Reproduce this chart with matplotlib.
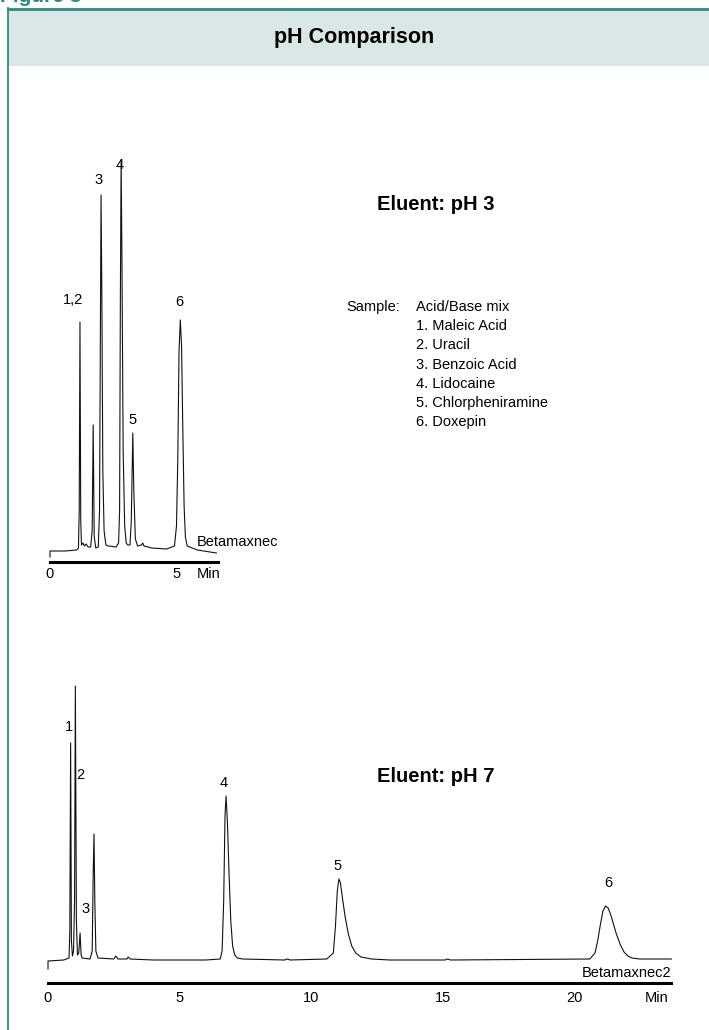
import matplotlib
matplotlib.use("Agg")
import matplotlib.pyplot as plt
from matplotlib.patches import Rectangle
from matplotlib.lines import Line2D

plt.rcParams["font.family"] = ["Liberation Sans", "DejaVu Sans"]

W, H = 709, 1030

# pH 3 trace: time (min) and signal (detector units)
ph3_time = [0, 0, 0.6, 1.05, 1.12, 1.15, 1.18, 1.21, 1.24, 1.3, 1.35, 1.42, 1.5, 1.6,
            1.66, 1.70, 1.74, 1.8, 1.9, 1.95, 1.98, 2.01, 2.04, 2.08, 2.13, 2.2, 2.3,
            2.6, 2.7, 2.74, 2.77, 2.80, 2.83, 2.88, 2.94, 3.0, 3.06,
            3.15, 3.2, 3.26, 3.3, 3.36, 3.45, 3.6, 3.65, 3.7, 4.0, 4.6,
            4.9, 4.98, 5.03, 5.08, 5.13, 5.18, 5.23, 5.28, 5.33, 5.4, 5.8, 6.55]
ph3_signal = [-6, 0, 0, 1, 3, 40, 229, 30, 6, 8, 5, 7, 4, 4,
              20, 126, 15, 3, 4, 40, 200, 356, 260, 80, 20, 6, 5,
              4, 8, 40, 250, 391, 300, 100, 25, 8, 6,
              6, 30, 118, 60, 12, 5, 6, 8, 5, 3, 2,
              5, 25, 90, 200, 231, 205, 120, 45, 14, 5, 1, -2]
ph3_peaks = ["1,2", "3", "4", "5", "6"]
ph3_peak_time = [0.9, 1.93, 2.76, 3.26, 5.08]
ph3_peak_label_y = [251, 371, 386, 131, 249]

# pH 7 trace
ph7_time = [0, 0, 0.6, 0.8, 0.83, 0.86, 0.89, 0.93, 0.97, 1.01, 1.04, 1.08, 1.12,
            1.17, 1.22, 1.26, 1.3, 1.6, 1.68, 1.72, 1.75, 1.78, 1.82, 1.9, 2.5,
            2.58, 2.66, 3.0, 3.05, 3.12, 4.0, 5.0, 6.0, 6.55, 6.62, 6.68, 6.73,
            6.77, 6.82, 6.88, 6.95, 7.02, 7.1, 7.2, 7.4, 9.0, 9.1, 9.2,
            10.6, 10.85, 10.93, 11.0, 11.06, 11.12, 11.2, 11.3, 11.42, 11.55, 11.7,
            11.9, 12.3, 13.0, 15.1, 15.2, 15.3, 20.6, 20.8, 20.9, 21.0, 21.1, 21.2,
            21.3, 21.4, 21.5, 21.6, 21.75, 21.9, 22.05, 22.2, 22.5, 23.7]
ph7_signal = [-8, 0, 1, 3, 30, 218, 20, 5, 10, 60, 275, 40, 6,
              8, 28, 6, 3, 2, 10, 90, 127, 60, 10, 3, 2,
              5, 2, 2, 4, 2, 1, 1, 1, 2, 10, 60, 145,
              165, 140, 90, 40, 15, 6, 3, 2, 1, 2, 1,
              2, 8, 35, 70, 82, 78, 62, 44, 27, 15, 8,
              4, 2, 1, 1, 2, 1, 2, 8, 20, 36, 50, 55,
              53, 46, 37, 28, 17, 9, 5, 3, 2, 2]
ph7_peaks = ["1", "2", "3", "4", "5", "6"]
ph7_peak_time = [0.79, 1.22, 1.41, 6.69, 10.99, 21.29]
ph7_peak_label_y = [234, 186, 52, 178, 95, 78]

ph3_ticks = [0, 5, 6.24]
ph3_tick_labels = ["0", "5", "Min"]
ph7_ticks = [0, 5, 10, 15, 20, 23.14]
ph7_tick_labels = ["0", "5", "10", "15", "20", "Min"]

sample_lines = ["Acid/Base mix", "1. Maleic Acid", "2. Uracil", "3. Benzoic Acid",
                "4. Lidocaine", "5. Chlorpheniramine", "6. Doxepin"]

teal = "#2e8a80"


def fx(px):
    return px / W


def fy(py):
    return 1 - py / H


fig = plt.figure(figsize=(W / 100, H / 100), dpi=100)

# header band
fig.patches.append(Rectangle((fx(8), fy(66)), 1 - fx(8), (66 - 9) / H,
                             transform=fig.transFigure, facecolor="#d9e8e6",
                             edgecolor="none"))
fig.lines.append(Line2D([fx(8), 1], [fy(8.5), fy(8.5)], transform=fig.transFigure,
                        color=teal, lw=2))
fig.lines.append(Line2D([fx(8), fx(8)], [fy(8), 0], transform=fig.transFigure,
                        color=teal, lw=1.3))
fig.text(0, fy(2), "Figure 3", color=teal, fontsize=15, fontweight="bold",
         va="baseline", ha="left")
fig.text(fx(354), fy(37), "pH Comparison", fontsize=15.5, fontweight="bold",
         ha="center", va="center")


def make_axes(x0, ppm, xl, xr, yt, yb, base, bar, bar_end, pad):
    ax = fig.add_axes([fx(xl), fy(yb), (xr - xl) / W, (yb - yt) / H])
    ax.set_xlim((xl - x0) / ppm, (xr - x0) / ppm)
    ax.set_ylim(-(yb - base), base - yt)
    for s in ["top", "left", "right"]:
        ax.spines[s].set_visible(False)
    ax.spines["bottom"].set_position(("data", -(bar - base)))
    ax.spines["bottom"].set_bounds(0, (bar_end - x0) / ppm)
    ax.spines["bottom"].set_linewidth(2.2)
    ax.set_yticks([])
    ax.tick_params(axis="x", length=0, labelsize=10.5, pad=pad)
    ax.patch.set_alpha(0)
    return ax


ax1 = make_axes(50, 25.4, 40, 700, 120, 600, 551, 562, 218, 3.5)
ax1.plot(ph3_time, ph3_signal, color="#111111", lw=0.8)
ax1.set_xticks(ph3_ticks, ph3_tick_labels)
for lab, t, y in zip(ph3_peaks, ph3_peak_time, ph3_peak_label_y):
    ax1.text(t, y, lab, fontsize=10.5, ha="center", va="center")
ax1.text((197 - 50) / 25.4, 9, "Betamaxnec", fontsize=10.5, ha="left", va="center")

ax2 = make_axes(48, 26.3, 40, 700, 640, 1025, 961, 983, 671, 6)
ax2.plot(ph7_time, ph7_signal, color="#111111", lw=0.8)
ax2.set_xticks(ph7_ticks, ph7_tick_labels)
for lab, t, y in zip(ph7_peaks, ph7_peak_time, ph7_peak_label_y):
    ax2.text(t, y, lab, fontsize=10.5, ha="center", va="center")
ax2.text((671 - 48) / 26.3, -12, "Betamaxnec2", fontsize=10.5, ha="right", va="center")

fig.text(fx(436), fy(205), "Eluent: pH 3", fontsize=14.5, fontweight="bold",
         ha="center", va="center")
fig.text(fx(436), fy(777), "Eluent: pH 7", fontsize=14.5, fontweight="bold",
         ha="center", va="center")

fig.text(fx(346), fy(307), "Sample:", fontsize=10.5, ha="left", va="center")
for i, line in enumerate(sample_lines):
    fig.text(fx(416), fy(307 + 19.2 * i), line, fontsize=10.5, ha="left", va="center")

fig.savefig("out.png", dpi=100)
